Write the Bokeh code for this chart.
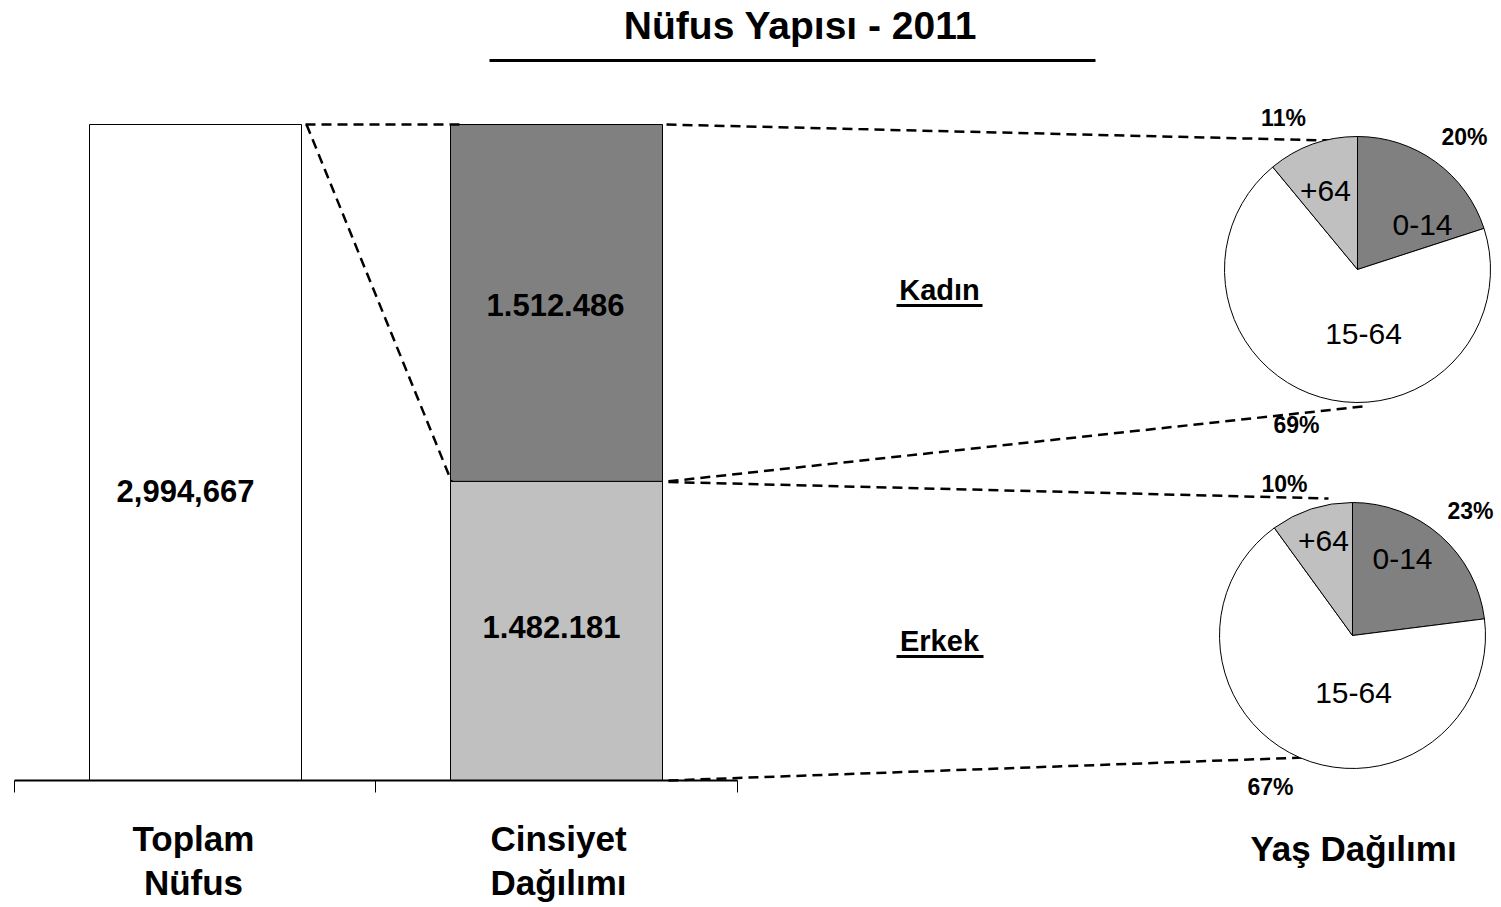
import math
from bokeh.plotting import figure
from bokeh.models import Range1d, ColumnDataSource
from bokeh.core.properties import value
from bokeh.embed import file_html
from bokeh.resources import INLINE

# ---------------- data ----------------
title_text = "Nüfus Yapısı - 2011"
categories = ["Toplam\nNüfus", "Cinsiyet\nDağılımı"]
pie_axis_label = "Yaş Dağılımı"
total_label = "2,994,667"
gender_names = ["Erkek", "Kadın"]
gender_labels = ["1.482.181", "1.512.486"]
gender_share_bar = [45.6, 54.4]          # bar heights as drawn (% of total)
total_share = 100.0
age_groups = ["0-14", "15-64", "+64"]
kadin_age_pct = [20, 69, 11]
erkek_age_pct = [23, 67, 10]
pct_labels_kadin = ["20%", "69%", "11%"]
pct_labels_erkek = ["23%", "67%", "10%"]
age_colors = ["#808080", "#ffffff", "#c0c0c0"]
gender_colors = ["#c0c0c0", "#808080"]

# ---------------- layout helpers ----------------
W, H = 1501, 907
Y0 = 780.0          # screen y of value 0
PPU = 6.56          # pixels per percent
def sy(py):
    return (Y0 - py) / PPU

FONT = value("Liberation Sans")

p = figure(width=W, height=H, output_backend="svg", toolbar_location=None,
           x_range=Range1d(0, W), y_range=Range1d(sy(H), sy(0)),
           min_border=0, tools="")
p.axis.visible = False
p.grid.visible = False
p.outline_line_color = None
p.background_fill_color = "white"

def txt(x, y, s, size, bold=True, align="center", color="black"):
    p.text(x=[x], y=[sy(y)], text=[s], text_font=FONT, text_font_size=size,
           text_font_style="bold" if bold else "normal", text_align=align,
           text_baseline="middle", text_color=color)

# title
txt(800, 25, title_text, "39px")
p.segment(x0=[489], y0=[sy(60)], x1=[1095], y1=[sy(60)], line_color="black", line_width=3)

# bars
bx_total, bx_gender, bw = 195, 556, 212
p.vbar(x=[bx_total], width=bw, bottom=0, top=[total_share], fill_color="white",
       line_color="black", line_width=1)
bottoms = [0, gender_share_bar[0]]
tops = [gender_share_bar[0], gender_share_bar[0] + gender_share_bar[1]]
p.vbar(x=[bx_gender, bx_gender], width=bw, bottom=bottoms, top=tops,
       fill_color=gender_colors, line_color="black", line_width=1)

# bar value labels
p.text(x=[185], y=[total_share / 2 - 5.8], text=[total_label], text_font=FONT, text_font_size="31px",
       text_font_style="bold", text_align="center", text_baseline="middle")
p.text(x=[551, 555], y=[bottoms[0] + gender_share_bar[0] / 2 + 0.6, bottoms[1] + gender_share_bar[1] / 2 - 0.3],
       text=gender_labels, text_font=FONT, text_font_size="31px",
       text_font_style="bold", text_align="center", text_baseline="middle")

# category axis
p.segment(x0=[14], y0=[0], x1=[737], y1=[0], line_color="black", line_width=2)
for tx in [14, 375, 737]:
    p.segment(x0=[tx], y0=[0], x1=[tx], y1=[sy(792)], line_color="black", line_width=1)
for cx, lab in zip([193, 558], categories):
    l1, l2 = lab.split("\n")
    txt(cx, 838, l1, "35px")
    txt(cx, 882, l2, "35px")
txt(1353, 848, pie_axis_label, "35px")

# gender names
txt(939, 289, gender_names[1], "29px")
p.segment(x0=[896], y0=[sy(305)], x1=[982], y1=[sy(305)], line_color="black", line_width=3)
txt(939, 640, gender_names[0], "29px")
p.segment(x0=[896], y0=[sy(656)], x1=[983], y1=[sy(656)], line_color="black", line_width=3)

# dashed connectors
top_total = total_share
mid = gender_share_bar[0]
dash = dict(line_color="black", line_width=2.5, line_dash="10 6")
p.segment(x0=[305], y0=[top_total], x1=[462], y1=[top_total], **dash)
p.segment(x0=[306], y0=[top_total], x1=[451], y1=[mid], **dash)
p.segment(x0=[666], y0=[top_total], x1=[1330], y1=[sy(140)], **dash)
p.segment(x0=[668], y0=[mid], x1=[1362], y1=[sy(406)], **dash)
p.segment(x0=[668], y0=[mid - 0.1], x1=[1328], y1=[sy(498)], **dash)
p.segment(x0=[668], y0=[0], x1=[1305], y1=[sy(757)], **dash)

# pies
def pie(cx, cy, r, pcts):
    tot = sum(pcts)
    cum = 0.0
    starts, ends = [], []
    for v in pcts:
        a_end = math.radians(90 - 360 * cum / tot)
        cum += v
        a_start = math.radians(90 - 360 * cum / tot)
        starts.append(a_start)
        ends.append(a_end)
    src = ColumnDataSource(dict(x=[cx] * len(pcts), y=[sy(cy)] * len(pcts),
                                s=starts, e=ends, c=age_colors))
    p.wedge(x="x", y="y", radius=r, radius_units="screen", start_angle="s", end_angle="e",
            fill_color="c", line_color="black", line_width=1, source=src)

pie(1357, 269, 133, kadin_age_pct)
pie(1352, 635, 133, erkek_age_pct)

# pie labels (Kadın)
txt(1422, 224, age_groups[0], "30px", bold=False)
txt(1363, 333, age_groups[1], "30px", bold=False)
txt(1325, 190, age_groups[2], "30px", bold=False)
txt(1464, 136, pct_labels_kadin[0], "23px")
txt(1296, 424, pct_labels_kadin[1], "23px")
txt(1283, 117, pct_labels_kadin[2], "23px")
# pie labels (Erkek)
txt(1402, 558, age_groups[0], "30px", bold=False)
txt(1353, 692, age_groups[1], "30px", bold=False)
txt(1323, 540, age_groups[2], "30px", bold=False)
txt(1470, 510, pct_labels_erkek[0], "23px")
txt(1270, 786, pct_labels_erkek[1], "23px")
txt(1284, 483, pct_labels_erkek[2], "23px")

open("out.html", "w").write(file_html(p, INLINE))
